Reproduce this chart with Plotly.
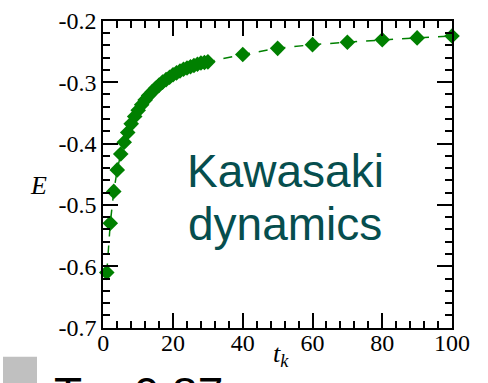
import plotly.graph_objects as go

t_values = [1, 2, 3, 4, 5, 6, 7, 8, 9, 10, 11, 12, 13, 14, 15, 16, 17, 18, 19, 20,
            21, 22, 23, 24, 25, 26, 27, 28, 29, 30, 40, 50, 60, 70, 80, 90, 100]
E_values = [-0.610, -0.530, -0.478, -0.443, -0.417, -0.398, -0.382, -0.368, -0.356, -0.346,
            -0.337, -0.329, -0.322, -0.316, -0.310, -0.305, -0.300, -0.296, -0.292, -0.288,
            -0.285, -0.282, -0.279, -0.277, -0.275, -0.273, -0.271, -0.269, -0.268, -0.267,
            -0.255, -0.245, -0.239, -0.235, -0.231, -0.228, -0.225]

x_tickvals = [0, 20, 40, 60, 80, 100]
x_ticktext = ["0", "20", "40", "60", "80", "100"]
y_tickvals = [-0.7, -0.6, -0.5, -0.4, -0.3, -0.2]
y_ticktext = ["-0.7", "-0.6", "-0.5", "-0.4", "-0.3", "-0.2"]

W, H = 488, 383
green = "#008000"
teal = "#064e4e"
serif = "Liberation Serif, Times New Roman, serif"
sans = "Liberation Sans, Arial, sans-serif"

fig = go.Figure()
fig.add_trace(go.Scatter(
    x=t_values, y=E_values, mode="lines+markers",
    line=dict(color=green, width=1.5, dash="dash"),
    marker=dict(symbol="diamond", size=12, color=green),
    showlegend=False, cliponaxis=False,
))

axis_common = dict(
    showgrid=False, zeroline=False, showline=True, linecolor="black", linewidth=2,
    mirror="allticks", ticks="inside", ticklen=15, tickwidth=2, tickcolor="black",
    tickfont=dict(family=serif, size=24, color="black"), automargin=False,
)
fig.update_xaxes(
    range=[0, 100], tickmode="array", tickvals=x_tickvals, ticktext=x_ticktext,
    domain=[103.3 / W, 452 / W], ticklabelstandoff=-8,
    minor=dict(ticks="inside", ticklen=7, tickwidth=2, tickcolor="black", dtick=4, tick0=0),
    **axis_common,
)
fig.update_yaxes(
    range=[-0.7, -0.2], tickmode="array", tickvals=y_tickvals, ticktext=y_ticktext,
    domain=[(H - 327.7) / H, (H - 20.7) / H],
    minor=dict(ticks="inside", ticklen=7, tickwidth=2, tickcolor="black", dtick=0.02, tick0=-0.7),
    **axis_common,
)

annotations = [
    dict(text="Kawasaki", x=285 / W, y=(H - 171) / H, xref="paper", yref="paper",
         showarrow=False, font=dict(family=sans, size=46, color=teal),
         xanchor="center", yanchor="middle"),
    dict(text="dynamics", x=285 / W, y=(H - 224) / H, xref="paper", yref="paper",
         showarrow=False, font=dict(family=sans, size=46, color=teal),
         xanchor="center", yanchor="middle"),
    dict(text="<i>E</i>", x=38 / W, y=(H - 185) / H, xref="paper", yref="paper",
         showarrow=False, font=dict(family=serif, size=26, color="black"),
         xanchor="center", yanchor="middle"),
    dict(text="<i>t</i><sub><i>k</i></sub>", x=281 / W, y=(H - 355) / H, xref="paper", yref="paper",
         showarrow=False, font=dict(family=serif, size=26, color="black"),
         xanchor="center", yanchor="middle"),
    dict(text="T = 0.87", x=52 / W, y=(H - 366) / H, xref="paper", yref="paper",
         showarrow=False, font=dict(family=sans, size=46, color="black"),
         xanchor="left", yanchor="top"),
]

fig.update_layout(
    width=W, height=H, margin=dict(l=0, r=0, t=0, b=0),
    paper_bgcolor="white", plot_bgcolor="white",
    annotations=annotations,
    shapes=[dict(type="rect", xref="paper", yref="paper", x0=3 / W, x1=37 / W,
                 y0=0, y1=(H - 356.7) / H, fillcolor="#c0c0c0", line=dict(width=0))],
)

fig.write_html("out.html")
